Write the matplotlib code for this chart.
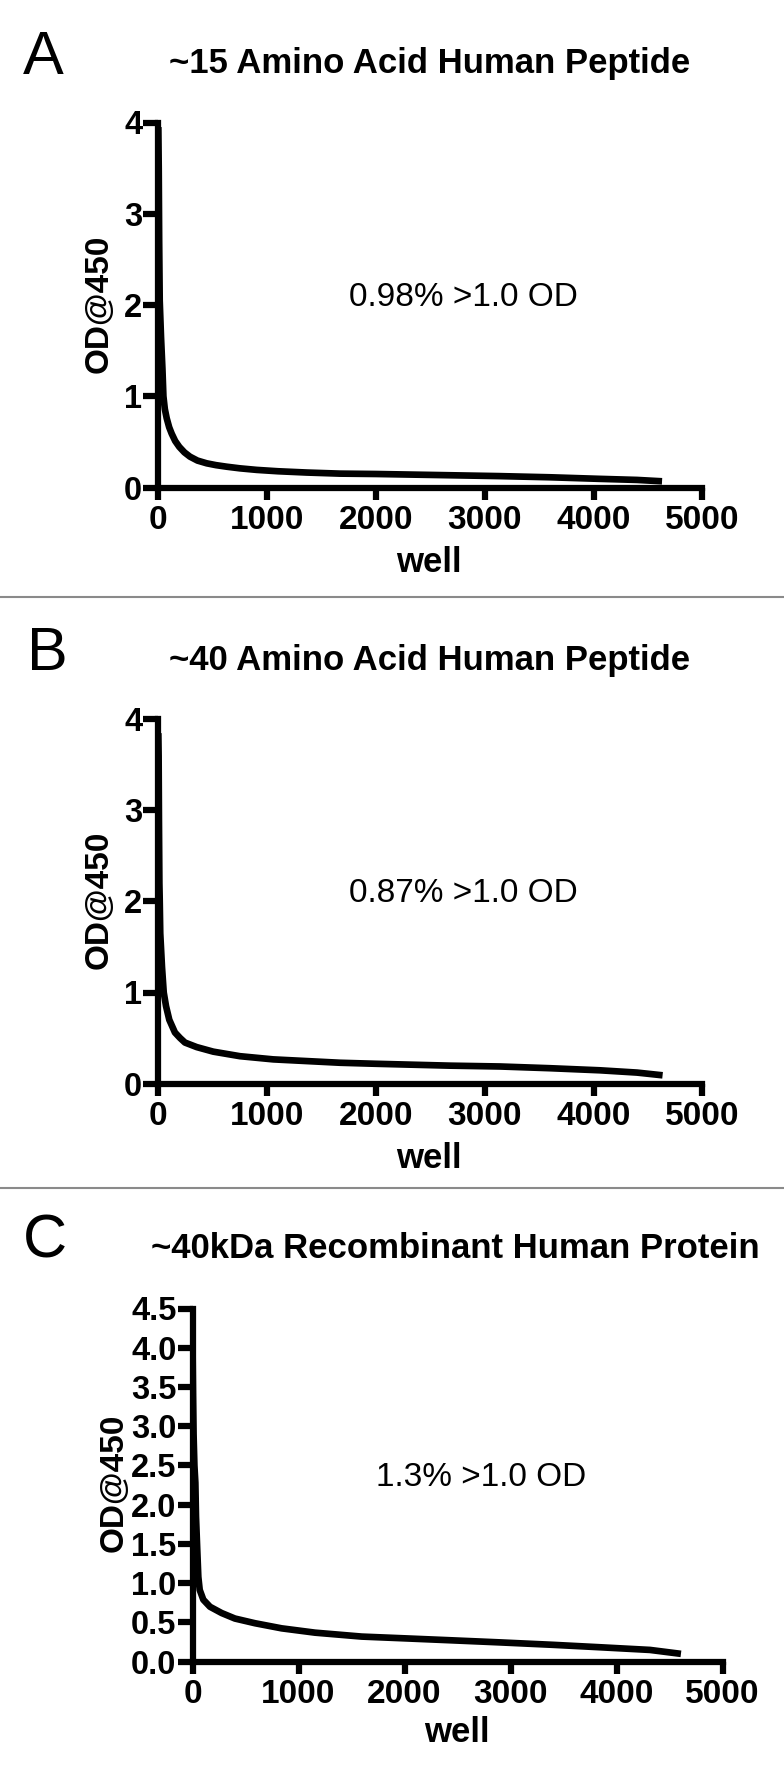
import matplotlib
matplotlib.use("Agg")
import matplotlib.pyplot as plt
from matplotlib.lines import Line2D

plt.rcParams['font.family'] = ['Liberation Sans', 'DejaVu Sans']

# ---- data ----
a_wells = [0, 4, 8, 13, 25, 38, 47, 60, 77, 100, 123, 155, 193, 240, 291, 360, 445, 530, 628,
           750, 904, 1100, 1364, 1670, 2000, 2500, 3130, 3600, 4050, 4400, 4630]
a_od = [3.95, 3.5, 2.7, 2.05, 1.65, 1.3, 1.0, 0.86, 0.76, 0.66, 0.59, 0.51, 0.445, 0.385, 0.338,
        0.295, 0.265, 0.245, 0.228, 0.21, 0.193, 0.178, 0.164, 0.152, 0.148, 0.138, 0.125, 0.112,
        0.095, 0.083, 0.068]

b_wells = [0, 3, 6, 10, 13, 18, 34, 50, 71, 101, 153, 200, 245, 353, 505, 751, 1057, 1670, 1990,
           2683, 3140, 3600, 4060, 4400, 4635]
b_od = [3.85, 3.6, 2.9, 2.2, 2.02, 1.65, 1.28, 1.0, 0.85, 0.70, 0.56, 0.50, 0.45, 0.40, 0.35,
        0.30, 0.265, 0.228, 0.217, 0.196, 0.187, 0.168, 0.145, 0.12, 0.09]

c_wells = [0, 5, 10, 18, 27, 33, 45, 55, 68, 102, 165, 275, 400, 590, 841, 1156, 1596, 1958, 2400,
           2901, 3400, 3844, 4316, 4608]
c_od = [4.1, 3.4, 2.9, 2.5, 2.28, 1.85, 1.42, 1.08, 0.915, 0.79, 0.70, 0.62, 0.55, 0.49, 0.425,
        0.37, 0.32, 0.30, 0.275, 0.246, 0.215, 0.184, 0.15, 0.10]

titles = ["~15 Amino Acid Human Peptide", "~40 Amino Acid Human Peptide",
          "~40kDa Recombinant Human Protein"]
letters = ["A", "B", "C"]
notes = ["0.98% >1.0 OD", "0.87% >1.0 OD", "1.3% >1.0 OD"]
x_ticks = [0, 1000, 2000, 3000, 4000, 5000]
y_ticks_ab = [0, 1, 2, 3, 4]
y_ticks_c = [0.0, 0.5, 1.0, 1.5, 2.0, 2.5, 3.0, 3.5, 4.0, 4.5]

W, H = 784, 1772
fig = plt.figure(figsize=(W / 100, H / 100), dpi=100)


def fx(px):
    return px / W


def fy(py):
    return 1 - py / H


# panel geometry in pixels: left, right, bottom(y=0), top(ymax); text anchors (baselines)
panels = [
    dict(l=158.3, r=702.3, b=487.5, t=122.5, wells=a_wells, od=a_od, ymax=4, yt=y_ticks_ab,
         ylab="{:.0f}", title_xy=(430, 72.7), letter_xy=(22.5, 74), note_xy=(463.8, 306),
         xlab_xy=(429, 572.3), ylab_xy=(108, 304)),
    dict(l=158.3, r=702.3, b=1083.5, t=719.5, wells=b_wells, od=b_od, ymax=4, yt=y_ticks_ab,
         ylab="{:.0f}", title_xy=(430, 670), letter_xy=(27, 670.4), note_xy=(463.8, 902),
         xlab_xy=(429, 1168), ylab_xy=(108, 900)),
    dict(l=192.5, r=722.5, b=1661.7, t=1308.5, wells=c_wells, od=c_od, ymax=4.5, yt=y_ticks_c,
         ylab="{:.1f}", title_xy=(455.5, 1258.5), letter_xy=(22.5, 1257.5), note_xy=(481, 1486),
         xlab_xy=(457, 1742.5), ylab_xy=(123, 1483)),
]

LW_AX = 4.5
LW_CURVE = 4.8

for i, p in enumerate(panels):
    ax = fig.add_axes([fx(p['l']), fy(p['b']), fx(p['r'] - p['l']), (p['b'] - p['t']) / H])
    ax.plot(p['wells'], p['od'], color='black', lw=LW_CURVE, solid_capstyle='butt',
            solid_joinstyle='round', zorder=3)
    ax.set_xlim(0, 5000)
    ax.set_ylim(0, p['ymax'])
    for s in ['top', 'right']:
        ax.spines[s].set_visible(False)
    for s in ['left', 'bottom']:
        ax.spines[s].set_linewidth(LW_AX)
        ax.spines[s].set_capstyle('projecting')
    ax.set_xticks(x_ticks)
    ax.set_xticklabels([str(v) for v in x_ticks])
    ax.set_yticks(p['yt'])
    ax.set_yticklabels([p['ylab'].format(v) for v in p['yt']])
    ax.tick_params(axis='both', direction='out', width=LW_AX, color='black')
    ax.tick_params(axis='x', length=8.5, pad=4.0)
    ax.tick_params(axis='y', length=10.5, pad=1.0)
    for lab in ax.get_xticklabels():
        lab.set_fontweight('bold')
        lab.set_fontsize(24)
    for lab in ax.get_yticklabels():
        lab.set_fontweight('bold')
        lab.set_fontsize(23.5)
    ax.set_xlabel("well", fontsize=25, fontweight='bold')
    ax.set_ylabel("OD@450", fontsize=24, fontweight='bold')
    ax.xaxis.set_label_coords(fx(p['xlab_xy'][0]), fy(p['xlab_xy'][1]), transform=fig.transFigure)
    ax.xaxis.label.set_va('baseline')
    ax.yaxis.set_label_coords(fx(p['ylab_xy'][0]), fy(p['ylab_xy'][1]), transform=fig.transFigure)
    ax.yaxis.label.set_va('baseline')
    ax.yaxis.label.set_ha('center')
    ax.patch.set_visible(False)

    fig.text(fx(p['title_xy'][0]), fy(p['title_xy'][1]), titles[i], ha='center', va='baseline',
             fontsize=25, fontweight='bold')
    fig.text(fx(p['letter_xy'][0]), fy(p['letter_xy'][1]), letters[i], ha='left', va='baseline',
             fontsize=44, fontweight='normal')
    fig.text(fx(p['note_xy'][0]), fy(p['note_xy'][1]), notes[i], ha='center', va='baseline',
             fontsize=24)

for yy in [597, 1188]:
    fig.add_artist(Line2D([0, 1], [fy(yy), fy(yy)], transform=fig.transFigure,
                          color='#8a8a8a', lw=1.5))

fig.savefig("out.png", dpi=100)
